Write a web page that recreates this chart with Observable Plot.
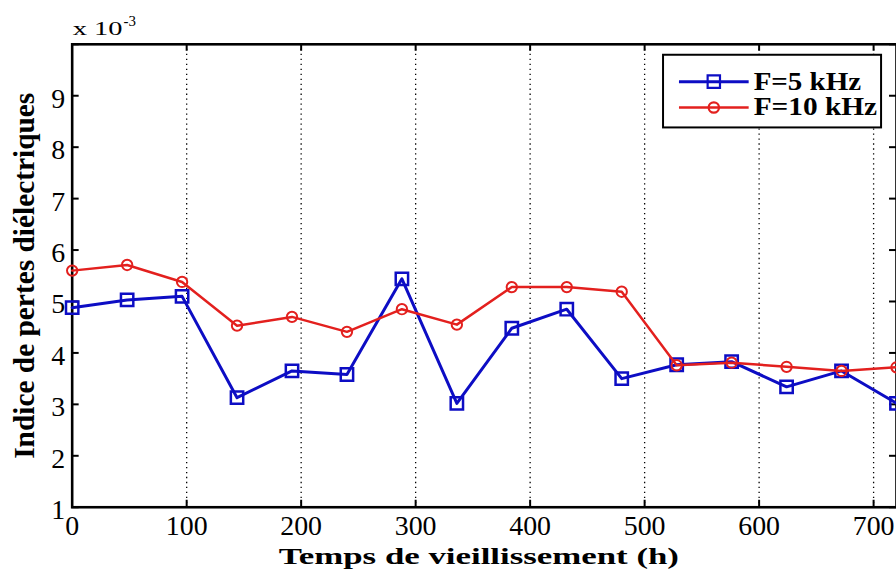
<!DOCTYPE html>
<html><head><meta charset="utf-8">
<script src="https://cdn.jsdelivr.net/npm/d3@7"></script>
<script src="https://cdn.jsdelivr.net/npm/@observablehq/plot@0.6"></script>
<style>html,body{margin:0;padding:0;background:#fff;overflow:hidden;width:896px;height:576px}
svg text{font-family:"Liberation Serif","Times New Roman",serif !important;}</style>
</head><body><div id="chart"></div>
<script>
// Data (values x 10^-3)
const hours = [0, 48, 96, 144, 192, 240, 288, 336, 384, 432, 480, 528, 576, 624, 672, 720];
const f5k   = [4.88, 5.03, 5.10, 3.13, 3.65, 3.58, 5.44, 3.02, 4.48, 4.85, 3.50, 3.77, 3.83, 3.34, 3.65, 3.02];
const f10k  = [5.60, 5.71, 5.38, 4.53, 4.70, 4.41, 4.85, 4.55, 5.28, 5.28, 5.19, 3.76, 3.81, 3.73, 3.65, 3.72];
const seriesNames = ["F=5 kHz", "F=10 kHz"];
const xTickLabels = [0, 100, 200, 300, 400, 500, 600, 700];
const xGridLines = [100, 200, 300, 400, 500, 600, 700];
const yTickLabels = [1, 2, 3, 4, 5, 6, 7, 8, 9];
const yTickMarks = [1, 2, 3, 4, 5, 6, 7, 8, 9, 10];
const xTitle = "Temps de vieillissement (h)";
const yTitle = "Indice de pertes diélectriques";

const BLUE = "#0d0dc4", RED = "#e3201e";
const W = 900, H = 576, mL = 72, mR = 0, mT = 44, mB = 67;
const innerW = W - mL - mR, innerH = H - mT - mB;

const s5 = hours.map((h, i) => ({h, v: f5k[i]}));
const s10 = hours.map((h, i) => ({h, v: f10k[i]}));

const svg = Plot.plot({
  width: W, height: H,
  marginLeft: mL, marginRight: mR, marginTop: mT, marginBottom: mB,
  style: {fontFamily: "Liberation Serif, serif", fontSize: "28px", color: "black", background: "white", overflow: "visible"},
  x: {domain: [0, 720]},
  y: {domain: [1, 10]},
  marks: [
    Plot.ruleX(xGridLines, {x: d => d, stroke: "black", strokeWidth: 1.3, strokeDasharray: "1.3,3.7"}),
    Plot.tickX(xGridLines, {x: d => d, stroke: "black", strokeWidth: 2, insetTop: innerH - 7}),
    Plot.tickX(xGridLines, {x: d => d, stroke: "black", strokeWidth: 2, insetBottom: innerH - 7}),
    Plot.tickY(yTickMarks, {y: d => d, stroke: "black", strokeWidth: 2, insetRight: innerW - 7}),
    Plot.tickY(yTickMarks, {y: d => d, stroke: "black", strokeWidth: 2, insetLeft: innerW - 7}),
    Plot.axisX({ticks: xTickLabels, tickSize: 0, tickPadding: 8, label: null, fill: "black", fontSize: 28}),
    Plot.axisY({ticks: yTickLabels, tickSize: 0, tickPadding: 7, dy: 3, label: null, fill: "black", fontSize: 28}),
    Plot.frame({stroke: "black", strokeWidth: 2.6}),
    Plot.line(s5, {x: "h", y: "v", stroke: BLUE, strokeWidth: 3}),
    Plot.dot(s5, {x: "h", y: "v", symbol: "square", r: 7, stroke: BLUE, fill: "none", strokeWidth: 2.5}),
    Plot.line(s10, {x: "h", y: "v", stroke: RED, strokeWidth: 2.5}),
    Plot.dot(s10, {x: "h", y: "v", symbol: "circle", r: 5.2, stroke: RED, fill: "none", strokeWidth: 2})
  ]
});
document.getElementById("chart").appendChild(svg);

const sel = d3.select(svg);
function stretch(node, target) {
  node.setAttribute("textLength", target);
  node.setAttribute("lengthAdjust", "spacingAndGlyphs");
}
function addText(parent, x, y, str, size, bold, anchor) {
  return parent.append("text").attr("x", x).attr("y", y).attr("text-anchor", anchor || "start")
    .attr("font-size", size).attr("font-weight", bold ? "bold" : "normal")
    .attr("fill", "black").text(str);
}

// Axis titles
const xt = addText(sel, 481, 567, xTitle, 24, true, "middle");
stretch(xt.node(), 402);
sel.append("text").attr("transform", "translate(34,277) rotate(-90)").attr("text-anchor", "middle")
  .attr("font-weight", "bold").attr("font-size", 29.5).attr("fill", "black").text(yTitle);

// Exponent label
const ex = addText(sel, 73, 35, "x 10", 19, false);
stretch(ex.node(), 50);
addText(sel, 124, 26, "-3", 15, false);

// Legend
const lg = sel.append("g");
lg.append("rect").attr("x", 666).attr("y", 55).attr("width", 219).attr("height", 73)
  .attr("fill", "white").attr("stroke", "black").attr("stroke-width", 2);
const legendItems = [
  {name: seriesNames[0], color: BLUE, symbol: d3.symbolSquare, size: Math.PI * 49, w: 3, y: 82, len: 108},
  {name: seriesNames[1], color: RED, symbol: d3.symbolCircle, size: Math.PI * 27, w: 2.5, y: 108, len: 124}
];
legendItems.forEach(it => {
  lg.append("line").attr("x1", 682).attr("x2", 752).attr("y1", it.y).attr("y2", it.y)
    .attr("stroke", it.color).attr("stroke-width", it.w);
  lg.append("path").attr("d", d3.symbol(it.symbol, it.size)()).attr("transform", `translate(717,${it.y})`)
    .attr("fill", "none").attr("stroke", it.color).attr("stroke-width", 2.2);
  const t = addText(lg, 757, it.y + 8, it.name, 25, true);
  stretch(t.node(), it.len);
});
</script>
</body></html>
